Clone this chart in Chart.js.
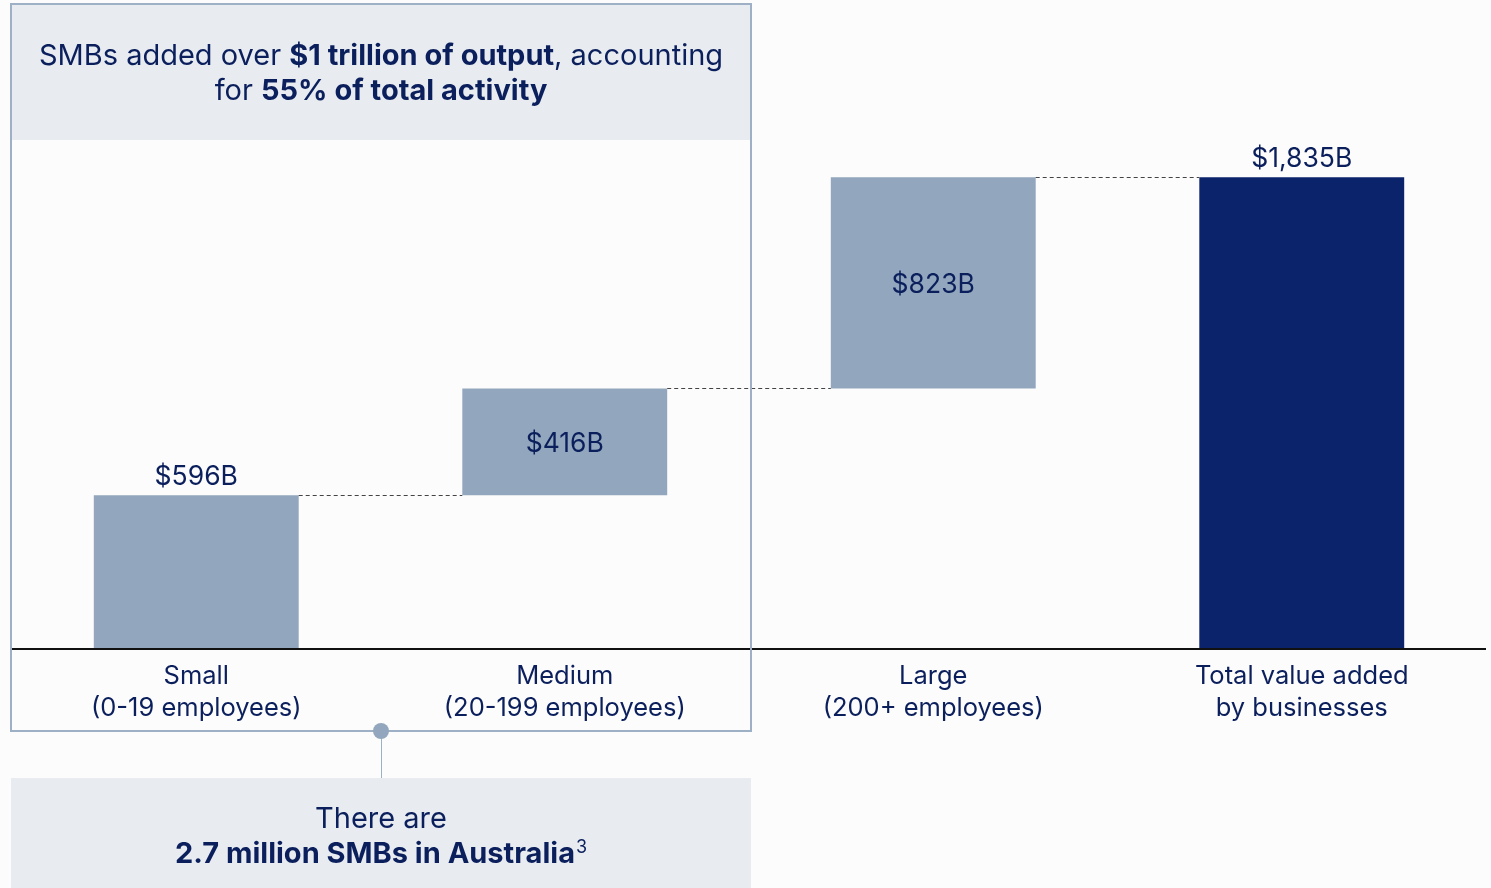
<!DOCTYPE html>
<html>
<head>
<meta charset="utf-8">
<script src="https://cdn.jsdelivr.net/npm/chart.js@4.4.1/dist/chart.umd.min.js"></script>
<style>
  html, body { margin: 0; padding: 0; background: #fcfcfc; }
  #wrap { width: 1491px; height: 888px; position: relative; }
</style>
</head>
<body>
<div id="wrap"><canvas id="chart"></canvas></div>
<script>
// Data
const categories = [
    ['Small', '(0-19 employees)'],
    ['Medium', '(20-199 employees)'],
    ['Large', '(200+ employees)'],
    ['Total value added', 'by businesses']
];
const barStarts = [0, 596, 1012, 0];
const barEnds = [596, 1012, 1835, 1835];
const valueLabels = ['$596B', '$416B', '$823B', '$1,835B'];
const labelInside = [false, true, true, false];
const barColors = ['#92a7bd', '#92a7bd', '#92a7bd', '#0b236b'];

const TEXT = '#0b1f5c';
const FONT = "Inter, 'Noto Sans', sans-serif";

// draw one line of mixed regular/bold runs, centred on cx; returns its width
function richLine(ctx, parts, cx, y, size) {
    let total = 0;
    parts.forEach(p => {
        ctx.font = (p.b ? '700 ' : '400 ') + size + 'px ' + FONT;
        p.w = ctx.measureText(p.t).width;
        total += p.w;
    });
    let x = cx - total / 2;
    ctx.textAlign = 'left';
    parts.forEach(p => {
        ctx.font = (p.b ? '700 ' : '400 ') + size + 'px ' + FONT;
        ctx.fillText(p.t, x, y);
        x += p.w;
    });
    return total;
}

const boxesBehind = {
    id: 'boxesBehind',
    beforeDraw(chart) {
        const ctx = chart.ctx;
        ctx.save();
        ctx.fillStyle = '#e8ecf1';
        ctx.fillRect(12, 5, 738, 135);
        ctx.fillRect(11, 778, 740, 110);
        ctx.restore();
    }
};

const overlay = {
    id: 'overlay',
    afterDatasetsDraw(chart) {
        const ctx = chart.ctx;
        const meta = chart.getDatasetMeta(0);
        const y = chart.scales.y;
        ctx.save();

        // dashed connectors between bar tops
        ctx.strokeStyle = '#444';
        ctx.lineWidth = 1;
        ctx.setLineDash([4, 3]);
        for (let i = 0; i < meta.data.length - 1; i++) {
            const a = meta.data[i], b = meta.data[i + 1];
            const yy = Math.round(y.getPixelForValue(barEnds[i])) + 0.5;
            ctx.beginPath();
            ctx.moveTo(a.x + a.width / 2, yy);
            ctx.lineTo(b.x - b.width / 2, yy);
            ctx.stroke();
        }
        ctx.setLineDash([]);

        // value labels
        ctx.fillStyle = TEXT;
        ctx.font = '400 26.5px ' + FONT;
        ctx.textAlign = 'center';
        meta.data.forEach((bar, i) => {
            const top = y.getPixelForValue(barEnds[i]);
            const bottom = y.getPixelForValue(barStarts[i]);
            if (labelInside[i]) {
                ctx.textBaseline = 'middle';
                ctx.fillText(valueLabels[i], bar.x, (top + bottom) / 2 + 2);
            } else {
                ctx.textBaseline = 'alphabetic';
                ctx.fillText(valueLabels[i], bar.x, top - 10);
            }
        });

        // baseline
        ctx.strokeStyle = '#111';
        ctx.lineWidth = 2;
        ctx.beginPath();
        ctx.moveTo(12, 649);
        ctx.lineTo(1486, 649);
        ctx.stroke();

        // SMB outline box
        ctx.strokeStyle = '#9db0c6';
        ctx.lineWidth = 2;
        ctx.strokeRect(11, 4, 740, 727);

        // connector to bottom note
        ctx.lineWidth = 1;
        ctx.beginPath();
        ctx.moveTo(381.5, 731);
        ctx.lineTo(381.5, 778);
        ctx.stroke();
        ctx.fillStyle = '#92a7bd';
        ctx.beginPath();
        ctx.arc(381, 731, 8, 0, Math.PI * 2);
        ctx.fill();

        // annotation texts
        ctx.fillStyle = TEXT;
        ctx.textBaseline = 'alphabetic';
        richLine(ctx, [{t: 'SMBs added over '}, {t: '$1 trillion of output', b: true}, {t: ', accounting'}], 381, 65, 29);
        richLine(ctx, [{t: 'for '}, {t: '55% of total activity', b: true}], 381, 100, 29);
        richLine(ctx, [{t: 'There are'}], 381, 828, 29);
        const w = richLine(ctx, [{t: '2.7 million SMBs in Australia', b: true}], 375, 863, 29);
        ctx.font = '400 18px ' + FONT;
        ctx.textAlign = 'left';
        ctx.fillText('3', 375 + w / 2 + 1, 853);

        ctx.restore();
    }
};

new Chart(document.getElementById('chart'), {
    type: 'bar',
    data: {
        labels: categories,
        datasets: [{
            data: barStarts.map((s, i) => [s, barEnds[i]]),
            backgroundColor: barColors,
            borderWidth: 0,
            categoryPercentage: 1,
            barPercentage: 0.556
        }]
    },
    options: {
        responsive: true,
        maintainAspectRatio: false,
        animation: false,
        layout: { padding: { top: 135, left: 12, right: 5, bottom: 0 } },
        plugins: { legend: { display: false }, tooltip: { enabled: false } },
        scales: {
            x: {
                grid: { display: false, drawTicks: false },
                border: { display: false },
                ticks: {
                    color: TEXT,
                    font: { family: FONT, size: 25.5, lineHeight: 1.255 },
                    padding: 12,
                    maxRotation: 0,
                    autoSkip: false
                },
                afterFit(scale) { scale.height = 240; }
            },
            y: {
                display: false,
                min: 0,
                max: 2000
            }
        }
    },
    plugins: [boxesBehind, overlay]
});
</script>
</body>
</html>
